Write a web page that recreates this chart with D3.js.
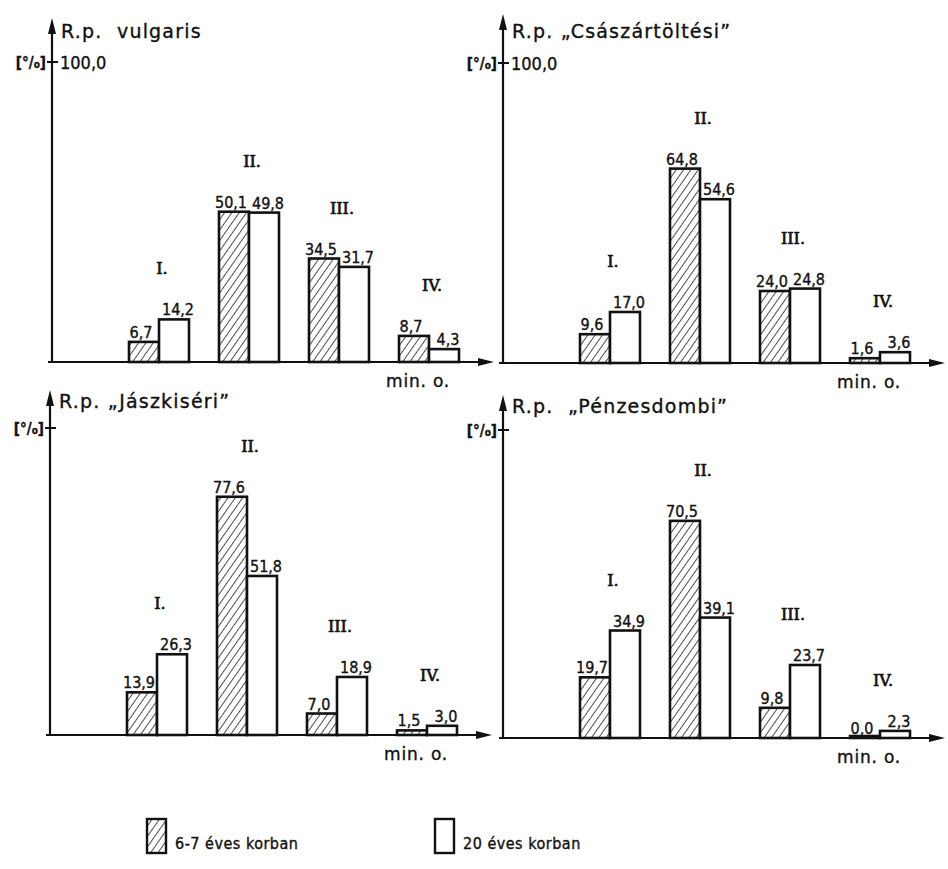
<!DOCTYPE html>
<html>
<head>
  <meta charset="utf-8">
  <title>R.p. bar charts</title>
  <script src="https://d3js.org/d3.v7.min.js"></script>
  <style>
    body { margin: 0; background: #fff; }
    text { fill: #111; stroke: #111; stroke-width: 0.35px; }
  </style>
</head>
<body>
  <svg width="948" height="869" id="mainsvg"></svg>
  <script>
    // data
    const titles = ["R.p.  vulgaris", "R.p. „Császártöltési”", "R.p. „Jászkiséri”", "R.p.  „Pénzesdombi”"];
    const categories = ["I.", "II.", "III.", "IV."];
    const youngVulgaris = [6.7, 50.1, 34.5, 8.7];
    const adultVulgaris = [14.2, 49.8, 31.7, 4.3];
    const youngCsaszar = [9.6, 64.8, 24.0, 1.6];
    const adultCsaszar = [17.0, 54.6, 24.8, 3.6];
    const youngJaszkiseri = [13.9, 77.6, 7.0, 1.5];
    const adultJaszkiseri = [26.3, 51.8, 18.9, 3.0];
    const youngPenzes = [19.7, 70.5, 9.8, 0.0];
    const adultPenzes = [34.9, 39.1, 23.7, 2.3];
    const legendLabels = ["6-7 éves korban", "20 éves korban"];
    const topTickLabels = ["100,0", "100,0", "", ""];

    const youngSeries = [youngVulgaris, youngCsaszar, youngJaszkiseri, youngPenzes];
    const adultSeries = [adultVulgaris, adultCsaszar, adultJaszkiseri, adultPenzes];

    // panel layout (pixels)
    const layout = [
      {ax: 52,  base: 362, top: 62,  arrowTop: 18,  titleY: 38},
      {ax: 503, base: 363, top: 63,  arrowTop: 14,  titleY: 38},
      {ax: 50,  base: 735, top: 428, arrowTop: 390, titleY: 408},
      {ax: 503, base: 738, top: 430, arrowTop: 395, titleY: 413}
    ];

    const svg = d3.select('#mainsvg');
    const fmt = v => v.toFixed(1).replace('.', ',');

    const defs = svg.append('defs');
    defs.append('pattern')
      .attr('id', 'hatch')
      .attr('patternUnits', 'userSpaceOnUse')
      .attr('width', 6).attr('height', 10)
      .attr('patternTransform', 'rotate(35)')
      .append('line')
      .attr('x1', 0).attr('y1', -2).attr('x2', 0).attr('y2', 12)
      .attr('stroke', '#222').attr('stroke-width', 1.6);

    function arrow(g, x, y, dir) {
      // dir: 'up' or 'right'
      const p = dir === 'up'
        ? [[x, y], [x - 4, y + 16], [x + 4, y + 16]]
        : [[x, y], [x - 16, y - 4], [x - 16, y + 4]];
      g.append('path').attr('d', d3.line()(p) + 'Z').attr('fill', '#111');
    }

    layout.forEach((L, i) => {
      const g = svg.append('g');
      const y = d3.scaleLinear().domain([0, 100]).range([L.base, L.top]);
      const x = d3.scaleBand().domain(categories)
        .range([L.ax + 77, L.ax + 77 + 330])
        .paddingInner(1 / 3).paddingOuter(0);
      const xs = d3.scaleBand().domain([0, 1]).range([0, x.bandwidth()]);

      // axes
      g.append('line').attr('x1', L.ax).attr('x2', L.ax)
        .attr('y1', L.base + 1).attr('y2', L.arrowTop + 10)
        .attr('stroke', '#111').attr('stroke-width', 2.2);
      arrow(g, L.ax, L.arrowTop, 'up');
      g.append('line').attr('x1', L.ax - 4).attr('x2', L.ax + 430)
        .attr('y1', L.base).attr('y2', L.base)
        .attr('stroke', '#111').attr('stroke-width', 2.2);
      arrow(g, L.ax + 442, L.base, 'right');

      // 100 % tick
      g.append('line').attr('x1', L.ax - 5).attr('x2', L.ax + 6)
        .attr('y1', y(100)).attr('y2', y(100))
        .attr('stroke', '#111').attr('stroke-width', 2);
      const yl = g.append('text').attr('x', L.ax - 6).attr('y', y(100) + 6)
        .attr('text-anchor', 'end')
        .style('font', 'bold 15px "DejaVu Sans Condensed", "DejaVu Sans"');
      yl.append('tspan').text('[°/');
      yl.append('tspan').attr('font-size', 10).text('o');
      yl.append('tspan').text(']');
      g.append('text').attr('x', L.ax + 8).attr('y', y(100) + 7)
        .style('font', '18px "DejaVu Sans Condensed", "DejaVu Sans"')
        .text(topTickLabels[i]);

      // title
      g.append('text').attr('x', L.ax + 9).attr('y', L.titleY)
        .attr('xml:space', 'preserve')
        .style('white-space', 'pre')
        .style('letter-spacing', '1.2px')
        .style('font', '19px "DejaVu Sans", sans-serif')
        .text(titles[i]);

      // min. o.
      g.append('text').attr('x', L.ax + 398).attr('y', L.base + 25)
        .attr('text-anchor', 'end')
        .style('letter-spacing', '0.8px')
        .style('font', '17px "DejaVu Sans", sans-serif')
        .text('min. o.');

      const rows = categories.map((c, k) => ({
        cat: c, vals: [youngSeries[i][k], adultSeries[i][k]]
      }));

      const grp = g.selectAll('g.grp').data(rows).enter().append('g')
        .attr('class', 'grp')
        .attr('transform', d => `translate(${x(d.cat)},0)`);

      grp.selectAll('rect').data(d => d.vals).enter().append('rect')
        .attr('x', (v, j) => xs(j))
        .attr('y', v => Math.min(y(v), L.base - 2))
        .attr('width', xs.bandwidth())
        .attr('height', v => Math.max(L.base - y(v), 2))
        .attr('fill', (v, j) => j === 0 ? 'url(#hatch)' : '#fff')
        .attr('stroke', '#111').attr('stroke-width', 2.6);

      grp.selectAll('text.val').data(d => d.vals).enter().append('text')
        .attr('class', 'val')
        .attr('x', (v, j) => xs(j) + xs.bandwidth() / 2 + (j === 0 ? -3 : 4))
        .attr('y', v => y(v) - 4)
        .attr('text-anchor', 'middle')
        .style('font', '16px "DejaVu Sans Condensed", "DejaVu Sans"')
        .text(fmt);

      grp.append('text')
        .attr('x', x.bandwidth() / 2 + 3)
        .attr('y', d => y(d3.max(d.vals)) - 45)
        .attr('text-anchor', 'middle')
        .style('stroke-width', '0.7px')
        .style('font', '16px "DejaVu Serif", serif')
        .text(d => d.cat);
    });

    // legend
    const leg = svg.append('g');
    const legX = [147, 435];
    legendLabels.forEach((lab, j) => {
      leg.append('rect').attr('x', legX[j]).attr('y', 819)
        .attr('width', 19).attr('height', 34)
        .attr('fill', j === 0 ? 'url(#hatch)' : '#fff')
        .attr('stroke', '#111').attr('stroke-width', 2.4);
      leg.append('text').attr('x', legX[j] + 28).attr('y', 849)
        .style('letter-spacing', '0.5px')
        .style('font', '16px "DejaVu Sans Condensed", "DejaVu Sans"')
        .text(lab);
    });
  </script>
</body>
</html>
